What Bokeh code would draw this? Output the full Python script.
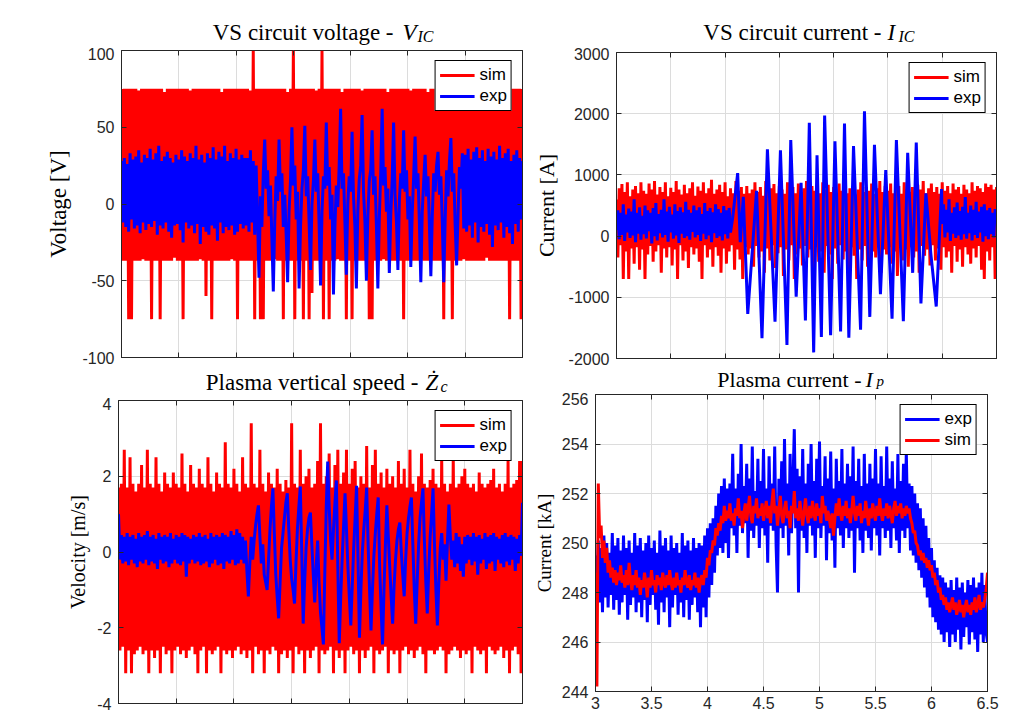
import numpy as np
from bokeh.plotting import figure
from bokeh.layouts import row, column
from bokeh.models import LinearAxis, Legend, LegendItem, CustomJSTickFormatter, PrintfTickFormatter
from bokeh.core.properties import value
from bokeh.embed import file_html
from bokeh.resources import INLINE

# ---------------- data ----------------
T_START, T_END = 3.0, 6.5
X_TICKS = [3, 3.5, 4, 4.5, 5, 5.5, 6, 6.5]

V_TICKS = [-100, -50, 0, 50, 100]
I_TICKS = [-2000, -1000, 0, 1000, 2000, 3000]
Z_TICKS = [-4, -2, 0, 2, 4]
IP_TICKS = [244, 246, 248, 250, 252, 254, 256]

# VS circuit voltage [V]
volt_sim = [
    75, -37, 75, -37, 75, -75, 75, -75, 75, -37, 75, -37, 74, -37, 75, -36, 75, -37, 75, -37,
    75, -75, 75, -37, 75, -37, 75, -75, 75, -37, 73, -37, 75, -37, 75, -37, 75, -35, 75, -37,
    75, -37, 75, -75, 75, -37, 75, -37, 74, -37, 75, -37, 75, -37, 75, -36, 75, -37, 75, -60,
    75, -37, 75, -75, 75, -37, 75, -37, 75, -37, 73, -37, 75, -37, 75, -37, 75, -36, 75, -37,
    75, -75, 75, -37, 75, -37, 75, -37, 75, -37, 74, -37, 100, -75, 75, -37, 75, -75, 75, -75,
    75, -37, 75, -37, 75, -37, 75, -36, 75, -37, 75, -37, 75, -75, 75, -37, 73, -37, 75, -37,
    100, -75, 75, -37, 75, -37, 75, -75, 75, -37, 75, -75, 75, -58, 75, -37, 74, -37, 75, -37,
    100, -75, 75, -37, 75, -75, 75, -37, 75, -37, 75, -36, 75, -37, 73, -37, 75, -75, 75, -37,
    75, -75, 75, -37, 75, -37, 75, -37, 74, -37, 75, -37, 75, -75, 75, -75, 75, -37, 75, -37,
    75, -37, 75, -36, 75, -37, 73, -37, 75, -37, 75, -37, 75, -37, 75, -37, 75, -75, 75, -37,
    75, -37, 74, -37, 75, -37, 75, -37, 75, -36, 75, -37, 75, -37, 73, -37, 75, -37, 75, -37,
    75, -37, 75, -37, 75, -75, 75, -37, 75, -37, 75, -75, 75, -37, 74, -37, 75, -37, 75, -36,
    75, -37, 75, -37, 73, -37, 75, -37, 75, -37, 75, -37, 75, -37, 75, -35, 75, -37, 74, -37,
    75, -37, 75, -37, 75, -37, 75, -37, 75, -37, 75, -75, 75, -37, 75, -37, 75, -37, 75, -75,
    75,
]
volt_exp = [
    28, -12, 30, -15, 26, -18, 33, -10, 29, -16, 31, -14, 35, -19, 27, -12, 32, -17, 30, -13,
    36, -15, 29, -11, 33, -20, 38, -14, 28, -16, 31, -12, 34, -18, 30, -22, 27, -14, 32, -13,
    29, -17, 35, -25, 31, -12, 28, -16, 33, -14, 30, -19, 38, -13, 29, -26, 32, -15, 27, -18,
    33, -20, 30, -14, 37, -16, 29, -24, 34, -12, 31, -19, 38, -15, 28, -17, 33, -14, 30, -20,
    36, -18, 29, -13, 32, -16, 30, -14, 30, -18, 35, -12, 28, -20, 25, -10, -48, 5, -15, 20,
    42, 10, 22, -8, 12, -22, -57, -12, 18, 2, 42, 8, 20, -15, 6, -20, -51, -5, 15, 50,
    12, 25, -10, 8, -55, -15, 10, 22, 51, 5, 18, -12, -43, 0, 15, 42, 8, 20, -14, -53,
    -5, 18, 10, 53, 12, 24, -10, 6, -59, -15, 12, -2, 25, 62, 10, 20, -12, -46, 0, 18,
    8, 47, 5, -15, -55, -5, 16, 25, 58, 8, -12, -50, -8, 15, 22, 48, 6, 18, -14, -55,
    -10, 20, 62, 12, 24, -5, 10, -45, -8, 16, 53, 6, -12, -43, 2, 20, 10, 48, 8, 22,
    -10, 5, -41, -6, 18, 44, 10, 20, -12, -51, -5, 15, 32, 5, 18, -14, -47, -8, 20, 8,
    25, 34, 6, 18, -12, -51, -10, 22, 5, 28, 43, 8, 20, -14, -40, -6, 24, 10, 33, -16,
    32, -18, 36, -14, 29, -22, 34, -12, 37, -25, 30, -15, 35, -18, 28, -13, 36, -20, 31, -28,
    34, -14, 29, -17, 38, -12, 30, -22, 33, -15, 36, -19, 28, -26, 32, -13, 35, -18, 30, -10,
    28,
]

# VS circuit current [A]
curr_sim = [
    600, -350, 780, -150, 850, -700, 720, -250, 880, -700, 650, -200, 760, -450, 820, -180, 700, -550, 880, -220,
    740, -700, 690, -300, 860, -160, 760, -420, 900, -250, 680, -150, 800, -600, 720, -200, 880, -350, 650, -180,
    790, -480, 720, -220, 900, -700, 760, -150, 680, -400, 840, -250, 700, -520, 780, -180, 880, -300, 660, -200,
    810, -420, 740, -700, 880, -150, 700, -350, 780, -220, 920, -500, 690, -180, 760, -320, 840, -600, 720, -200,
    880, -450, 650, -250, 780, -150, 700, -550, 900, -220, 740, -380, 800, -700, 690, -180, 820, -300, 700, -200,
    760, -500, 880, -160, 720, -350, 800, -250, 660, -600, 900, -200, 740, -400, 780, -150, 850, -520, 700, -280,
    820, -180, 760, -650, 690, -220, 880, -400, 740, -150, 800, -700, 700, -300, 860, -200, 720, -480, 780, -160,
    900, -350, 680, -220, 820, -550, 740, -180, 780, -420, 700, -250, 880, -600, 760, -160, 840, -300, 720, -700,
    800, -200, 690, -450, 860, -150, 740, -380, 920, -250, 700, -550, 780, -180, 820, -320, 680, -700, 760, -220,
    880, -400, 720, -160, 800, -500, 740, -700, 860, -250, 690, -350, 780, -180, 900, -600, 720, -220, 820, -300,
    740, -180, 860, -450, 700, -250, 780, -650, 820, -150, 690, -400, 880, -220, 760, -500, 720, -180, 800, -350,
    680, -250, 840, -600, 760, -160, 900, -320, 700, -220, 780, -480, 860, -150, 720, -400, 800, -200, 690, -550,
    880, -180, 740, -350, 820, -250, 700, -600, 860, -160, 760, -420, 800, -220, 690, -500, 840, -180, 760, -300,
    700, -450, 880, -200, 740, -350, 820, -160, 780, -550, 720, -700, 860, -250, 800, -400, 840, -180, 760, -700,
    800,
]
curr_exp_pre = [
    100, 420, -50, 380, 20, 520, -80, 350, 60, 450, -30, 400, 10, 600, -100, 380, 40, 470, -60, 330,
    30, 500, -40, 420, 80, 380, -120, 460, 0, 540, -70, 360, 50, 430, -20, 600, 20, 400, -90, 480,
    60, 350, -40, 520, 10, 410, -110, 470, 40, 390, -30, 560, 0, 430, -60, 380, 70, 500, -20, 420,
    20, 470, -80, 360, 40, 540, -50, 410, 10, 460, -100, 390, 50, 520, -30, 440, 0, 380, -70, 490,
    30, 420, -40, 460, 60,
]
curr_exp_osc_t = [
    4.07, 4.116, 4.14, 4.168, 4.209, 4.29, 4.34, 4.39, 4.46, 4.51, 4.57, 4.605, 4.655, 4.70,
    4.74, 4.776, 4.816, 4.847, 4.887, 4.917, 4.972, 5.012, 5.064, 5.10, 5.14, 5.183, 5.248,
    5.284, 5.333, 5.376, 5.431, 5.48, 5.538, 5.578, 5.642, 5.682, 5.728, 5.761, 5.804, 5.85,
    5.896, 5.945, 5.994,
]
curr_exp_osc = [
    300, 1030, -100, 640, -1270, 740, -1667, 1420, -1400, 1400, -1780, 1570, -990, 870,
    -1380, 1850, -1900, 1320, -1650, 1970, -1620, 1550, -1560, 1840, -1660, 1470, -1530,
    2040, -1320, 1490, -950, 1080, -1350, 1570, -1390, 1360, -600, 1530, -1100, 700,
    -300, -1150, 770,
]
curr_exp_post = [
    200, 520, -20, 430, 60, 600, -80, 380, 40, 470, -30, 550, 10, 410, -60, 480, 30, 640, -40, 380,
    50, 500, -70, 430, 20, 560, -30, 400, 60, 480, -90, 520, 0, 420, -50, 460, 30, 380, -20, 440, 200,
]

# Plasma vertical speed [m/s]
speed_sim = [
    1.7, -2.6, 1.8, -2.5, 2.7, -3.2, 1.7, -2.6, 2.5, -3.2, 1.8, -2.7, 1.6, -2.6, 1.8, -2.5, 2.3, -2.7, 1.7, -2.6,
    2.7, -3.2, 1.8, -2.6, 1.7, -2.8, 2.5, -2.6, 1.8, -3.2, 1.6, -2.5, 2.1, -2.7, 1.8, -2.6, 1.7, -3.2, 2.1, -2.6,
    1.8, -2.5, 1.7, -2.7, 2.6, -2.6, 1.8, -2.8, 1.6, -2.6, 2.3, -2.5, 1.8, -2.7, 1.7, -3.2, 2.2, -2.6, 1.8, -2.5,
    1.7, -3.2, 2.5, -2.6, 1.8, -2.7, 1.6, -2.6, 2.1, -2.5, 1.8, -3.2, 1.7, -2.6, 2.9, -2.7, 1.8, -2.6, 1.7, -2.8,
    2.2, -2.6, 1.8, -2.5, 1.6, -2.7, 2.5, -2.6, 1.8, -2.8, 1.7, -2.6, 3.4, -3.2, 1.8, -2.5, 1.7, -2.7, 2.7, -2.6,
    1.8, -3.2, 1.6, -2.6, 2.1, -2.7, 1.8, -2.5, 1.7, -2.6, 2.2, -3.2, 1.8, -2.7, 1.6, -2.6, 1.9, -2.8, 1.7, -2.6,
    3.4, -3.2, 1.8, -2.5, 1.7, -2.7, 2.7, -2.6, 1.8, -3.2, 2.0, -2.6, 2.2, -2.8, 1.7, -2.6, 1.8, -2.5, 2.4, -3.2,
    3.4, -2.6, 1.8, -2.7, 2.0, -2.6, 2.6, -2.5, 1.7, -3.2, 2.3, -2.6, 2.7, -2.8, 1.8, -2.6, 2.1, -3.2, 2.7, -2.6,
    1.8, -2.5, 2.2, -2.7, 2.4, -2.6, 1.7, -3.2, 2.0, -2.6, 1.8, -2.8, 2.8, -2.6, 1.7, -2.5, 2.3, -3.2, 2.7, -2.6,
    1.8, -2.7, 2.1, -2.6, 1.7, -2.5, 2.2, -3.2, 1.8, -2.6, 2.0, -2.7, 1.7, -2.6, 2.4, -3.2, 1.8, -2.6, 2.2, -2.5,
    1.7, -2.7, 2.7, -2.6, 1.8, -2.8, 1.6, -2.6, 2.0, -2.5, 2.6, -2.7, 1.8, -3.2, 1.7, -2.6, 1.9, -2.6, 2.2, -2.7,
    1.8, -2.6, 1.7, -2.5, 2.5, -2.6, 1.8, -3.2, 1.6, -2.7, 1.8, -2.6, 2.5, -2.5, 1.7, -2.6, 1.8, -2.8, 2.0, -2.6,
    2.2, -2.7, 1.8, -2.6, 1.7, -3.2, 1.8, -2.5, 1.6, -2.6, 2.1, -2.7, 1.8, -2.6, 1.7, -3.2, 1.8, -2.5, 1.9, -2.6,
    2.2, -2.7, 1.7, -2.6, 1.8, -2.5, 1.6, -2.8, 1.8, -2.6, 2.4, -3.2, 1.7, -2.6, 1.8, -2.5, 1.9, -2.7, 2.4, -3.2,
    2.4,
]
speed_exp = [
    1.0, -0.2, 0.45, -0.3, 0.4, -0.25, 0.5, -0.35, 0.4, -0.2, 0.45, -0.3, 0.35, -0.4, 0.5, -0.25, 0.4, -0.3, 0.45, -0.2,
    0.55, -0.35, 0.4, -0.25, 0.45, -0.3, 0.35, -0.45, 0.5, -0.2, 0.4, -0.3, 0.45, -0.25, 0.4, -0.4, 0.5, -0.3, 0.35, -0.2,
    0.45, -0.3, 0.4, -0.35, 0.5, -0.25, 0.45, -0.65, 0.4, -0.3, 0.35, -0.2, 0.45, -0.3, 0.4, -0.25, 0.5, -0.35, 0.4, -0.3,
    0.45, -0.25, 0.35, -0.4, 0.5, -0.3, 0.4, -0.2, 0.45, -0.35, 0.4, -0.3, 0.5, -0.45, 0.45, -0.25, 0.4, -0.3, 0.55, -0.2,
    0.45, -0.35, 0.6, -0.3, 0.5, -0.2, 0.4, -0.3, 0.3, -0.5, -1.17, -0.3, 0.4, -0.2, 0.3, 0.7, 1.0, 1.23, 0.4, -0.3,
    0.2, -0.6, -0.8, -1.0, -0.2, 0.6, 1.2, 1.68, 0.5, -0.6, -1.2, -1.75, -0.8, 0.1, 0.5, 0.9, 1.3, 1.55, 0.6, -0.2,
    -0.7, -1.0, -1.36, -0.3, 0.6, 1.2, 1.73, 0.0, -1.89, -0.8, 0.1, 0.6, 0.9, 1.04, 0.2, -0.6, -1.33, -0.4, 0.3, -0.8,
    -1.6, -2.0, -2.44, -0.5, 1.2, 2.39, 1.2, 0.3, -0.2, 0.6, 1.3, 1.89, -0.4, -2.41, -1.2, -0.2, 0.7, 1.55, 0.6, -0.4,
    -1.2, -1.94, -0.9, 0.1, 0.9, 1.75, -0.2, -2.26, -1.0, 0.0, 0.6, 1.1, 1.7, 0.2, -1.0, -2.07, -1.0, -0.1, 0.5, 1.0,
    1.44, -0.4, -1.5, -2.44, -1.0, 0.2, 1.23, 0.4, -0.4, -1.2, -1.89, -0.9, -0.2, 0.3, 0.6, 0.78, 0.0, -0.6, -1.17, -0.2,
    0.5, 0.9, 1.2, 1.44, 0.2, -1.0, -1.89, -0.8, 0.2, 0.9, 1.3, 1.68, 0.3, -0.8, -1.62, -0.5, 0.4, 1.0, 1.68, 0.2,
    -1.0, -1.94, -0.8, 0.1, 0.5, -0.2, 0.2, -0.76, 0.3, 1.25, 0.4, -0.2, 0.3, -0.4, 0.5, -0.3, 0.4, -0.5, 0.2, -0.65,
    0.4, -0.3, 0.45, -0.2, 0.4, -0.35, 0.5, -0.25, 0.4, -0.6, 0.45, -0.3, 0.35, -0.2, 0.5, -0.45, 0.4, -0.3, 0.45, -0.25,
    0.5, -0.5, 0.4, -0.2, 0.35, -0.3, 0.45, -0.4, 0.5, -0.25, 0.4, -0.35, 0.45, -0.2, 0.4, -0.5, 0.35, -0.3, 0.45, -0.1,
    1.3,
]

# Plasma current [kA]
ip_exp = [
    249.5, 248.0, 250.1, 247.6, 249.8, 247.2, 250.3, 247.8, 250.0, 247.4, 249.6, 247.9, 250.4, 247.3, 249.9, 247.7, 250.2, 247.1, 249.7, 247.6,
    250.3, 247.9, 249.8, 246.9, 250.1, 247.5, 249.6, 247.8, 250.4, 247.2, 249.9, 247.6, 250.2, 247.0, 249.7, 247.7, 250.0, 246.8, 250.3, 247.5,
    249.8, 247.9, 250.1, 247.3, 249.6, 246.7, 250.5, 247.6, 249.9, 247.2, 250.2, 247.8, 249.7, 246.6, 250.3, 247.4, 249.8, 247.9, 250.0, 247.1,
    249.6, 247.6, 250.4, 247.0, 249.9, 247.7, 250.1, 246.9, 249.7, 247.5, 250.2, 247.8, 249.8, 247.2, 250.0, 246.6, 249.9, 247.4, 250.3, 247.0,
    250.6, 247.8, 250.8, 248.3, 251.0, 248.8, 251.5, 249.5, 252.0, 249.8, 252.3, 249.6, 252.6, 250.0, 252.2, 249.4,
    252.4, 250.6, 253.6, 250.3, 252.2, 249.6, 252.8, 250.7, 254.0, 250.4,
    252.3, 250.8, 253.2, 249.4, 252.6, 250.5, 253.9, 250.2, 252.1, 250.7,
    253.4, 249.8, 252.5, 250.6, 253.8, 250.3, 252.2, 249.2, 253.5, 250.7,
    252.4, 250.5, 253.9, 249.9, 248.0, 252.6, 250.6, 253.3, 250.2, 254.2,
    250.7, 252.4, 249.5, 253.6, 250.4, 252.3, 254.6, 250.6, 253.0, 248.0,
    252.7, 250.5, 253.8, 250.2, 252.4, 249.6, 253.2, 250.7, 254.0, 250.3,
    252.5, 249.4, 253.4, 250.6, 254.1, 250.2, 252.3, 250.7, 253.5, 249.3,
    252.6, 250.4, 253.7, 250.1, 252.2, 249.0, 253.4, 250.6, 252.5, 250.3,
    253.8, 249.8, 252.4, 250.6, 253.2, 250.2, 252.7, 250.5, 253.9, 248.8,
    252.5, 250.6, 253.4, 250.1, 252.3, 249.6, 253.6, 250.5, 252.4, 250.2,
    253.2, 249.7, 252.6, 250.6, 253.8, 250.3, 252.4, 249.5, 253.5, 250.6,
    252.3, 250.2, 253.9, 250.5, 252.6, 249.8, 253.3, 250.6, 252.2, 250.1,
    253.6, 249.6, 252.5, 250.5, 253.2, 250.2, 253.7, 250.6, 252.4, 249.7,
    252.3, 249.5, 252.0, 249.2, 251.6, 248.9, 251.4, 248.6, 251.0, 248.2, 250.7, 247.8, 250.2, 247.4,
    249.8, 247.0, 249.3, 246.8, 249.0, 246.5, 248.7, 246.3, 248.6, 246.0, 248.4, 246.4, 248.2, 245.8, 248.5, 246.3, 248.1, 246.0, 248.6, 246.5,
    248.2, 245.7, 248.4, 246.2, 248.0, 246.6, 248.5, 245.9, 248.3, 246.4, 248.6, 246.1, 248.2, 245.6, 248.4, 246.3, 248.8, 246.0, 248.3, 246.4,
    246.0,
]
ip_sim = [
    248.8, 244.2, 252.4, 250.2, 250.7, 249.4, 250.1, 249.2, 249.8, 248.8, 249.3, 248.6, 249.0, 248.4, 248.9, 248.3, 248.8, 248.5, 249.1, 248.4,
    248.7, 248.2, 248.9, 248.3, 249.2, 248.5, 248.1, 248.7, 248.3, 248.9, 248.2, 248.6, 247.9, 248.5, 248.2, 248.8, 248.4, 247.8, 248.6, 248.2,
    248.9, 248.3, 248.5, 248.0, 248.7, 248.3, 248.6, 248.1, 248.8, 248.4, 248.2, 248.7, 248.3, 248.9, 248.4, 248.1, 248.6, 248.2, 248.8, 248.3,
    248.5, 248.0, 248.6, 248.3, 248.9, 248.4, 248.2, 248.7, 248.1, 248.5, 248.3, 248.8, 248.2, 248.6, 248.0, 248.5, 248.7, 248.3, 248.9, 248.6,
    249.4, 249.1, 249.7, 249.6, 250.1, 249.9, 250.6, 250.3, 250.8, 250.5, 251.1, 250.8, 251.5, 250.9, 251.3, 251.0, 251.6, 250.9, 251.2, 250.7,
    251.4, 251.1, 251.8, 251.0, 251.3, 250.6, 251.2, 251.6, 250.9, 251.4, 251.9, 251.1, 250.8, 251.5, 251.2, 251.8, 251.0, 251.4, 251.1, 251.6,
    250.9, 251.3, 251.7, 251.0, 251.5, 250.8, 251.6, 252.2, 251.2, 251.5, 250.7, 251.3, 251.9, 251.1, 250.8, 251.4, 251.7, 251.0, 251.3, 250.6,
    251.5, 251.2, 252.1, 251.0, 251.4, 250.9, 251.7, 251.2, 250.7, 251.3, 251.8, 251.1, 250.8, 251.5, 251.0, 251.7, 251.2, 250.9, 251.6, 251.1,
    251.4, 250.8, 251.9, 251.2, 251.5, 250.9, 251.3, 251.0, 250.6, 251.2, 250.3, 251.0, 251.6, 251.1, 251.8, 251.2, 250.9, 251.5, 251.1, 251.7,
    251.0, 251.4, 250.8, 251.3, 251.9, 251.2, 250.9, 251.5, 251.1, 251.6, 250.8, 251.3, 251.0, 251.7, 251.2, 250.7, 251.4, 251.0, 251.6, 251.2,
    250.9, 251.5, 251.1, 251.8, 251.2, 250.9, 251.4, 251.1, 251.6, 251.0, 251.5, 251.2, 250.8, 251.4, 251.7, 251.1, 251.5, 251.2, 251.6, 251.0,
    251.4, 251.1, 251.5, 251.2, 251.4, 251.0, 250.8, 250.4, 250.5, 250.0, 249.9, 249.5, 249.7, 249.3, 249.6, 249.2, 249.4, 249.0, 249.3, 248.9,
    249.1, 248.6, 248.8, 248.3, 248.5, 248.0, 248.2, 247.7, 247.9, 247.5, 247.8, 247.3, 247.6, 247.2, 247.5, 247.8, 247.3, 247.6, 247.1, 247.4,
    247.7, 247.2, 247.5, 247.0, 247.4, 247.7, 247.2, 247.5, 247.1, 247.6, 247.3, 247.8, 247.2, 247.5, 247.9, 247.3, 247.6, 247.4, 247.7, 248.1,
    248.8,
]

# ---------------- style ----------------
SERIF = "Liberation Serif"
SANS = "Liberation Sans"
DARK = "#262626"
GRID = "#dcdcdc"
RED = "#ff0000"
BLUE = "#0000ff"
LW = 3


def t_of(vals, a=T_START, b=T_END):
    return np.linspace(a, b, len(vals))


def hide_labels(ax):
    ax.formatter = CustomJSTickFormatter(code="return ''")
    ax.major_label_text_font_size = "0px"
    ax.major_label_standoff = 0
    ax.major_label_text_color = None


def make_panel(w, h, bl, br, bt, bb, yr, yticks, ylabel, ylabel_size, ylabel_standoff, show_x=False):
    p = figure(width=w, height=h, x_range=(T_START, T_END), y_range=yr,
               output_backend="svg", toolbar_location=None, title=None,
               min_border_left=bl, min_border_right=br, min_border_top=bt, min_border_bottom=bb,
               background_fill_color="white", border_fill_color="white")
    p.outline_line_color = DARK
    p.outline_line_alpha = 1.0
    p.outline_line_width = 1
    bottom = p.below[0]
    left = p.left[0]
    bottom.ticker = X_TICKS
    left.ticker = yticks
    # top axis drawn at the upper edge of the frame without taking border space
    top = LinearAxis(ticker=X_TICKS, fixed_location=yr[1])
    right = LinearAxis(ticker=yticks)
    p.add_layout(top, "above")
    p.add_layout(right, "right")
    for ax in (bottom, left, top, right):
        ax.major_tick_in = 5
        ax.major_tick_out = 0
        ax.minor_tick_in = 0
        ax.minor_tick_out = 0
        ax.axis_line_color = DARK
        ax.major_tick_line_color = DARK
        ax.major_label_text_font = SANS
        ax.major_label_text_font_size = "16px"
        ax.major_label_text_color = DARK
        ax.major_label_standoff = 7
    left.formatter = PrintfTickFormatter(format="%d")
    hide_labels(top)
    hide_labels(right)
    if show_x:
        bottom.major_label_standoff = 5
    else:
        hide_labels(bottom)
    left.axis_label = ylabel
    left.axis_label_text_font = SERIF
    left.axis_label_text_font_size = ylabel_size
    left.axis_label_text_font_style = "normal"
    left.axis_label_text_color = "black"
    left.axis_label_standoff = ylabel_standoff
    p.xgrid.grid_line_color = GRID
    p.ygrid.grid_line_color = GRID
    return p


def add_legend(p, items):
    lg = Legend(items=[LegendItem(label=l, renderers=[r]) for l, r in items],
                location="top_right", margin=10, padding=4, spacing=1,
                glyph_width=35, glyph_height=20, label_height=20, label_standoff=5,
                label_text_font=SANS, label_text_font_size="17px", label_text_color="black",
                border_line_color="black", border_line_width=1, border_line_alpha=1.0,
                background_fill_color="white", background_fill_alpha=1.0)
    p.add_layout(lg)


# measured correction: text glyphs in the strip land ~8px lower than the requested baseline
BASE_FIX = 8


def title_strip(w, h, main, sym, sub, main_right, sym_left, sub_left, base, sub_base,
                size="23px", sub_size="16px"):
    s = figure(width=w, height=h, x_range=(0, w), y_range=(h, 0), output_backend="svg",
               toolbar_location=None, title=None, x_axis_location=None, y_axis_location=None,
               min_border=0, min_border_left=0, min_border_right=0, min_border_top=0, min_border_bottom=0,
               background_fill_color="white", border_fill_color="white")
    s.outline_line_color = None
    s.grid.visible = False
    s.text(x=[main_right], y=[base - BASE_FIX], text=[main], text_align="right", text_baseline="alphabetic",
           text_font=value(SERIF), text_font_size=value(size), text_font_style=value("normal"),
           text_color="black")
    s.text(x=[sym_left], y=[base - BASE_FIX], text=[sym], text_align="left", text_baseline="alphabetic",
           text_font=value(SERIF), text_font_size=value(size), text_font_style=value("italic"),
           text_color="black")
    s.text(x=[sub_left], y=[sub_base - BASE_FIX], text=[sub], text_align="left", text_baseline="alphabetic",
           text_font=value(SERIF), text_font_size=value(sub_size), text_font_style=value("italic"),
           text_color="black")
    return s


# ---- panel 1: VS circuit voltage (frame 121..522 x 50..357) ----
t1 = title_strip(530, 47, "VS circuit voltage -", "V", "IC", 393, 402, 417, 40, 44)
p1 = make_panel(530, 320, 121, 8, 3, 10, (-100, 100), V_TICKS, "Voltage [V]", "23px", 8)
r1s = p1.line(t_of(volt_sim), volt_sim, line_color=RED, line_width=LW)
r1e = p1.line(t_of(volt_exp), volt_exp, line_color=BLUE, line_width=LW)
add_legend(p1, [("sim", r1s), ("exp", r1e)])

# ---- panel 2: VS circuit current (frame 614..996 x 52..358) ----
t2 = title_strip(485, 47, "VS circuit current -", "I", "IC", 351, 357, 368, 40, 44)
p2 = make_panel(485, 320, 84, 19, 5, 9, (-2000, 3000), I_TICKS, "Current [A]", "22px", 7)
r2s = p2.line(t_of(curr_sim), curr_sim, line_color=RED, line_width=LW)
exp2_t = np.concatenate([t_of(curr_exp_pre, 3.0, 4.05), np.array(curr_exp_osc_t), t_of(curr_exp_post, 6.0, 6.5)])
exp2_v = np.concatenate([curr_exp_pre, curr_exp_osc, curr_exp_post])
r2e = p2.line(exp2_t, exp2_v, line_color=BLUE, line_width=LW)
add_legend(p2, [("sim", r2s), ("exp", r2e)])

# ---- panel 3: plasma vertical speed (frame 118..522 x 400..703) ----
t3 = title_strip(530, 30, "Plasma vertical speed -", "\u017b", "c", 418, 425, 440, 23, 27)
p3 = make_panel(530, 318, 118, 8, 3, 12, (-4, 4), Z_TICKS, "Velocity [m/s]", "20px", 5)
r3s = p3.line(t_of(speed_sim), speed_sim, line_color=RED, line_width=LW)
r3e = p3.line(t_of(speed_exp), speed_exp, line_color=BLUE, line_width=LW)
add_legend(p3, [("sim", r3s), ("exp", r3e)])

# ---- panel 4: plasma current (frame 595..987 x 394..691) ----
t4 = title_strip(485, 25, "Plasma current -", "I", "p", 331, 335, 346, 20, 21.5, size="22px", sub_size="15px")
p4 = make_panel(485, 323, 65, 28, 2, 24, (244, 256), IP_TICKS, "Current [kA]", "19px", 4, show_x=True)
r4e = p4.line(t_of(ip_exp), ip_exp, line_color=BLUE, line_width=LW)
r4s = p4.line(t_of(ip_sim), ip_sim, line_color=RED, line_width=LW)
add_legend(p4, [("exp", r4e), ("sim", r4s)])

col1 = column(row(t1), row(p1), row(t3), row(p3))
col2 = column(row(t2), row(p2), row(t4), row(p4))
layout = row(col1, col2)
open("out.html", "w").write(file_html(layout, INLINE))
